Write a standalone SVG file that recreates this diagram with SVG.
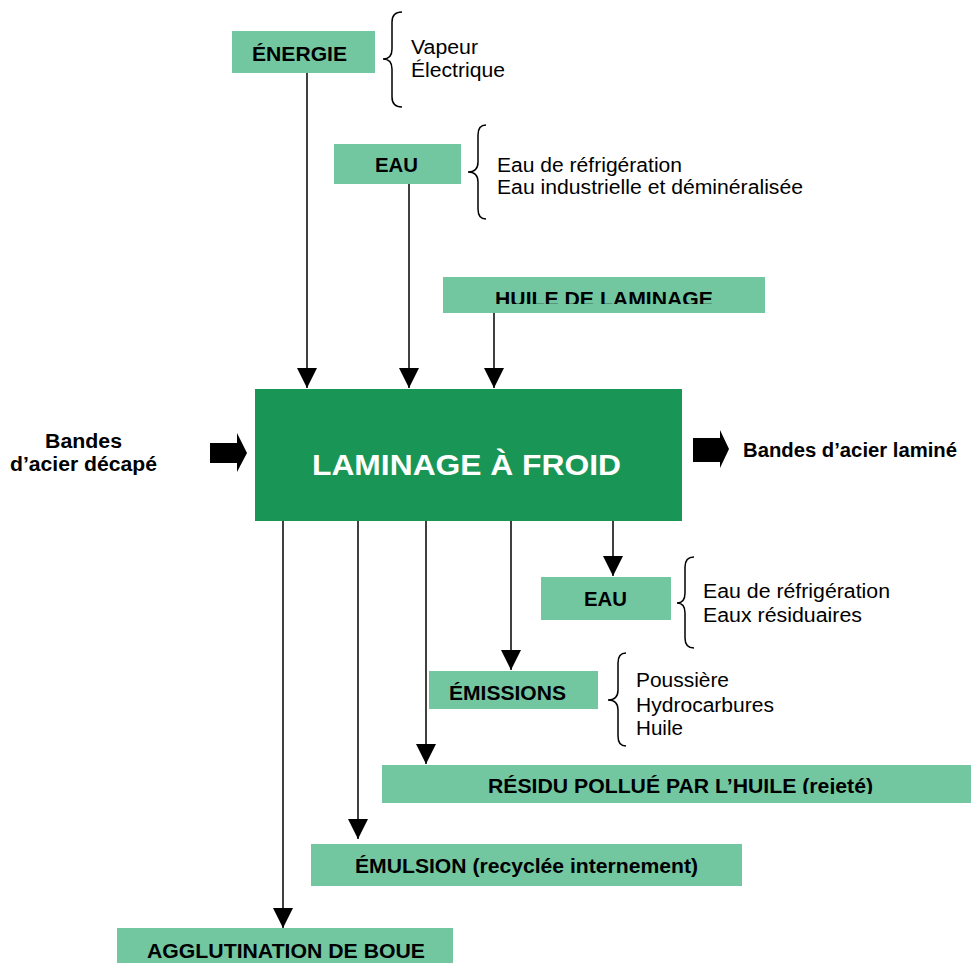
<svg xmlns="http://www.w3.org/2000/svg" width="971" height="963" viewBox="0 0 971 963">
  <defs>
    <style>
      .box { fill: #72C7A1; }
      .main { fill: #199655; }
      .lbl { font-family: "Liberation Sans", Arial, sans-serif; font-weight: bold; font-size: 20px; fill: #000; }
      .txt { font-family: "Liberation Sans", Arial, sans-serif; font-size: 20px; fill: #000; }
      .title { font-family: "Liberation Sans", Arial, sans-serif; font-weight: bold; font-size: 30px; fill: #fff; }
      .conn { stroke: #000; stroke-width: 1.5; fill: none; marker-end: url(#head); }
      .brace { stroke: #000; stroke-width: 1.5; fill: none; }
    </style>
    <marker id="head" markerUnits="userSpaceOnUse" markerWidth="22" markerHeight="22" refX="20" refY="10" orient="auto">
      <path d="M0,0 L20,10 L0,20 z" fill="#000"/>
    </marker>
    <clipPath id="clipHuile"><rect x="443" y="277" width="322" height="27"/></clipPath>
    <clipPath id="clipResidu"><rect x="382" y="765" width="589" height="29"/></clipPath>
  </defs>

  <!-- connectors -->
  <g id="connectors">
    <line class="conn" x1="307" y1="73" x2="307" y2="388"/>
    <line class="conn" x1="409" y1="184" x2="409" y2="388"/>
    <line class="conn" x1="494" y1="313" x2="494" y2="388"/>
    <line class="conn" x1="613" y1="520" x2="613" y2="576"/>
    <line class="conn" x1="511" y1="520" x2="511" y2="670"/>
    <line class="conn" x1="426" y1="520" x2="426" y2="764"/>
    <line class="conn" x1="358" y1="520" x2="358" y2="839"/>
    <line class="conn" x1="283" y1="520" x2="283" y2="928"/>
    <!-- block arrows for the strip flow -->
    <polygon points="210,443 237,443 237,433 247,453 237,472 237,463 210,463" fill="#000"/>
    <polygon points="693,438 720,438 720,430 729,449 720,468 720,462 693,462" fill="#000"/>
  </g>

  <!-- inputs -->
  <g id="energie">
    <rect class="box" x="232" y="31" width="143" height="42"/>
    <text class="lbl" x="252" y="61" textLength="95" lengthAdjust="spacingAndGlyphs">ÉNERGIE</text>
    <path class="brace" d="M402,12 Q392,12 392,22 L392,49 Q392,59 383,59 Q392,59 392,69 L392,97 Q392,107 402,107"/>
    <text class="txt" x="411" y="54" textLength="67" lengthAdjust="spacingAndGlyphs">Vapeur</text>
    <text class="txt" x="411" y="77" textLength="94" lengthAdjust="spacingAndGlyphs">Électrique</text>
  </g>

  <g id="eau-in">
    <rect class="box" x="334" y="144" width="127" height="40"/>
    <text class="lbl" x="375" y="172" textLength="43" lengthAdjust="spacingAndGlyphs">EAU</text>
    <path class="brace" d="M486,125 Q478,125 478,135 L478,162 Q478,172 468,172 Q478,172 478,182 L478,209 Q478,219 486,219"/>
    <text class="txt" x="497" y="172" textLength="185" lengthAdjust="spacingAndGlyphs">Eau de réfrigération</text>
    <text class="txt" x="497" y="194" textLength="306" lengthAdjust="spacingAndGlyphs">Eau industrielle et déminéralisée</text>
  </g>

  <g id="huile">
    <rect class="box" x="443" y="277" width="322" height="36"/>
    <text class="lbl" x="495" y="306" textLength="218" lengthAdjust="spacingAndGlyphs" clip-path="url(#clipHuile)">HUILE DE LAMINAGE</text>
  </g>

  <!-- process -->
  <g id="laminage">
    <rect class="main" x="255" y="389" width="427" height="132"/>
    <text class="title" x="312" y="475" textLength="309" lengthAdjust="spacingAndGlyphs">LAMINAGE À FROID</text>
  </g>

  <g id="bandes-in">
    <text class="lbl" x="83.5" y="448" text-anchor="middle" textLength="77" lengthAdjust="spacingAndGlyphs">Bandes</text>
    <text class="lbl" x="83.5" y="471" text-anchor="middle" textLength="147" lengthAdjust="spacingAndGlyphs">d’acier décapé</text>
  </g>

  <g id="bandes-out">
    <text class="lbl" x="743" y="457" textLength="214" lengthAdjust="spacingAndGlyphs">Bandes d’acier laminé</text>
  </g>

  <!-- outputs -->
  <g id="eau-out">
    <rect class="box" x="541" y="577" width="130" height="43"/>
    <text class="lbl" x="584" y="606" textLength="43" lengthAdjust="spacingAndGlyphs">EAU</text>
    <path class="brace" d="M694,557 Q685,557 685,567 L685,593 Q685,603 677,603 Q685,603 685,613 L685,638 Q685,648 694,648"/>
    <text class="txt" x="703" y="598" textLength="187" lengthAdjust="spacingAndGlyphs">Eau de réfrigération</text>
    <text class="txt" x="703" y="622" textLength="159" lengthAdjust="spacingAndGlyphs">Eaux résiduaires</text>
  </g>

  <g id="emissions">
    <rect class="box" x="429" y="671" width="169" height="38"/>
    <text class="lbl" x="449" y="700" textLength="117" lengthAdjust="spacingAndGlyphs">ÉMISSIONS</text>
    <path class="brace" d="M626,653 Q618,653 618,663 L618,690 Q618,700 608,700 Q618,700 618,710 L618,736 Q618,746 626,746"/>
    <text class="txt" x="636" y="687" textLength="93" lengthAdjust="spacingAndGlyphs">Poussière</text>
    <text class="txt" x="636" y="712" textLength="138" lengthAdjust="spacingAndGlyphs">Hydrocarbures</text>
    <text class="txt" x="636" y="735" textLength="47" lengthAdjust="spacingAndGlyphs">Huile</text>
  </g>

  <g id="residu">
    <rect class="box" x="382" y="765" width="589" height="38"/>
    <text class="lbl" x="488" y="793" textLength="385" lengthAdjust="spacingAndGlyphs" clip-path="url(#clipResidu)">RÉSIDU POLLUÉ PAR L’HUILE (rejeté)</text>
  </g>

  <g id="emulsion">
    <rect class="box" x="311" y="844" width="431" height="42"/>
    <text class="lbl" x="355" y="873" textLength="343" lengthAdjust="spacingAndGlyphs">ÉMULSION (recyclée internement)</text>
  </g>

  <g id="boue">
    <rect class="box" x="117" y="928" width="336" height="35"/>
    <text class="lbl" x="147" y="958" textLength="278" lengthAdjust="spacingAndGlyphs">AGGLUTINATION DE BOUE</text>
  </g>
</svg>
